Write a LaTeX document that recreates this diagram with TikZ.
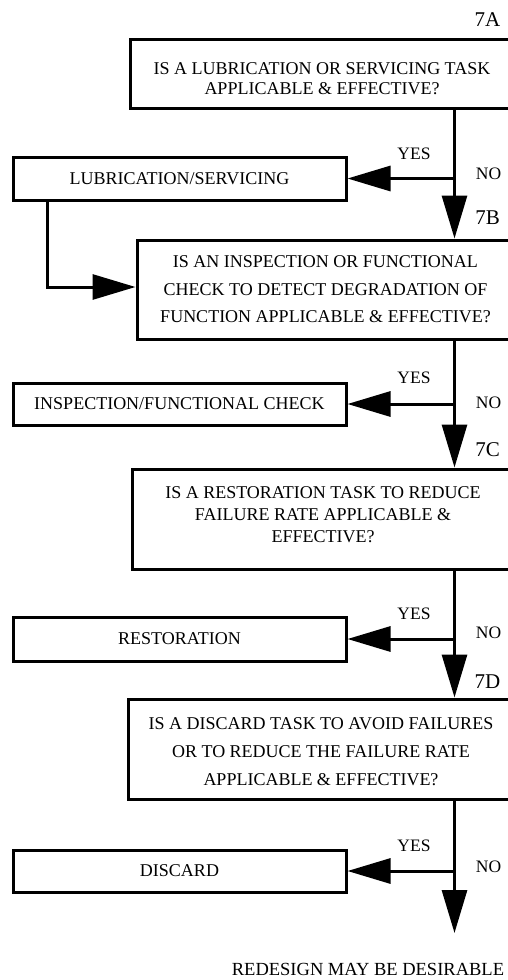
\documentclass[tikz,border=0pt]{standalone}
\usepackage{fontspec}
\setmainfont{Liberation Serif}
\usetikzlibrary{arrows.meta,calc}
\tikzset{
  qbox/.style={draw, line width=3pt, align=center, inner sep=0pt},
  abox/.style={draw, line width=3pt, align=center, inner sep=0pt, minimum width=333pt},
  conn/.style={line width=3pt},
  bigtip/.style={-{Triangle[length=43pt,width=25pt]}},
  lbl/.style={inner sep=0pt, font=\fontsize{17.5}{20}\selectfont},
  steplbl/.style={inner sep=0pt, font=\fontsize{21}{24}\selectfont},
}
\begin{document}
\begin{tikzpicture}[x=1pt,y=-1pt, font=\fontsize{18}{20}\selectfont]
\useasboundingbox (0,0) rectangle (508,980);
\fill[white] (0,0) rectangle (508,980);

% question boxes
\node[qbox, minimum width=384pt, minimum height=69pt, font=\fontsize{18}{20}\selectfont] (q1) at (322,73.5)
  {\rule{0pt}{22pt}IS A LUBRICATION OR SERVICING TASK\\APPLICABLE \& EFFECTIVE?};
\node[qbox, minimum width=377pt, minimum height=99pt, font=\fontsize{18}{27.5}\selectfont] (q2) at (325.5,289.5)
  {IS AN INSPECTION OR FUNCTIONAL\\CHECK TO DETECT DEGRADATION OF\\FUNCTION APPLICABLE \& EFFECTIVE?};
\node[qbox, minimum width=382pt, minimum height=100pt, font=\fontsize{18}{22}\selectfont] (q3) at (323,519)
  {IS A RESTORATION TASK TO REDUCE\\FAILURE RATE APPLICABLE \&\\EFFECTIVE?\rule[-8pt]{0pt}{8pt}};
\node[qbox, minimum width=386pt, minimum height=100pt, font=\fontsize{18}{28}\selectfont] (q4) at (321,749)
  {\rule{0pt}{18pt}IS A DISCARD TASK TO AVOID FAILURES\\OR TO REDUCE THE FAILURE RATE\\APPLICABLE \& EFFECTIVE?};

% action boxes
\node[abox, minimum height=43pt] (a1) at (179.5,178.5) {LUBRICATION/SERVICING};
\node[abox, minimum height=42pt] (a2) at (179.5,404) {INSPECTION/FUNCTIONAL CHECK};
\node[abox, minimum height=44pt] (a3) at (179.5,639) {RESTORATION};
\node[abox, minimum height=42pt] (a4) at (179.5,871) {DISCARD};

% step labels
\node[steplbl] (l7a) at (487.5,20) {7A};
\node[steplbl] (l7b) at (487.5,218) {7B};
\node[steplbl] (l7c) at (487.5,450) {7C};
\node[steplbl] (l7d) at (487.5,682) {7D};

% yes / no labels
\foreach \y/\n in {154/1,378/2,614/3,846/4} \node[lbl] (yes\n) at (414,\y) {YES};
\foreach \y/\n in {173.5/1,403/2,633/3,867/4} \node[lbl] (no\n) at (488.5,\y) {NO};

\node[inner sep=0pt, font=\fontsize{18.5}{20}\selectfont] (redesign) at (368,969.5) {REDESIGN MAY BE DESIRABLE};

% main line
\coordinate (mx) at (454.5,0);
\coordinate (endtip) at (454.5,933);
\coordinate (fb) at (47,287);

\draw[conn, bigtip] (q1.south -| mx) -- (q2.north -| mx);
\draw[conn, bigtip] (q2.south -| mx) -- (q3.north -| mx);
\draw[conn, bigtip] (q3.south -| mx) -- (q4.north -| mx);
\draw[conn, bigtip] (q4.south -| mx) -- (endtip);

% yes branches
\draw[conn, bigtip] (a1.east -| mx) -- (a1.east);
\draw[conn, bigtip] (a2.east -| mx) -- (a2.east);
\draw[conn, bigtip] (a3.east -| mx) -- (a3.east);
\draw[conn, bigtip] (a4.east -| mx) -- (a4.east);

% feedback from lubrication to 7B
\draw[conn, bigtip] (a1.south -| fb) |- (q2.west |- fb);
\end{tikzpicture}
\end{document}
